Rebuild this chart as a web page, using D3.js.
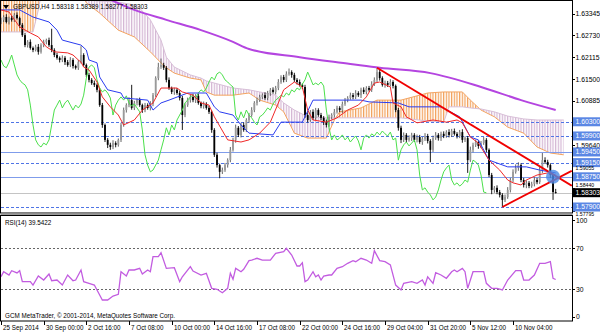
<!DOCTYPE html>
<html>
<head>
<meta charset="utf-8">
<script src="https://cdn.jsdelivr.net/npm/d3@7"></script>
<style>
  body { margin: 0; background: #fff; }
  svg { display: block; }
  text { font-family: "Liberation Sans", Arial, sans-serif; }
</style>
</head>
<body>
<div id="chart"></div>
<script>
// ---- data (GBPUSD H4) ----
const symbol = "GBPUSD,H4";
const lastOHLC = [1.58318, 1.58389, 1.58277, 1.58303];

const closes = [
  1.6317,1.6325,1.6311,1.6322,1.6317,1.6331,1.6322,1.6303,1.6274,1.6246,
  1.6255,1.6238,1.6232,1.6241,1.6227,1.6246,1.6255,1.6260,1.6246,1.6232,
  1.6218,1.6210,1.6204,1.6210,1.6198,1.6190,1.6204,1.6187,1.6182,1.6198,
  1.6218,1.6190,1.6162,1.6148,1.6139,1.6134,1.6120,1.6077,1.6021,1.5979,
  1.5965,1.5959,1.5970,1.5965,1.5979,1.6021,1.6063,1.6077,1.6091,1.6069,
  1.6083,1.6091,1.6077,1.6063,1.6077,1.6069,1.6080,1.6105,1.6153,1.6184,
  1.6190,1.6182,1.6148,1.6125,1.6114,1.6120,1.6111,1.6097,1.6049,1.6077,
  1.6091,1.6100,1.6091,1.6103,1.6083,1.6074,1.6080,1.6069,1.6058,1.6007,
  1.5937,1.5908,1.5889,1.5894,1.5908,1.5922,1.5951,1.5979,1.6013,1.5993,
  1.6021,1.6007,1.6035,1.6049,1.6063,1.6083,1.6091,1.6100,1.6105,1.6097,
  1.6111,1.6120,1.6114,1.6125,1.6142,1.6156,1.6148,1.6165,1.6170,1.6162,
  1.6148,1.6142,1.6134,1.6128,1.6049,1.6035,1.6058,1.6041,1.6063,1.6049,
  1.6041,1.6029,1.6021,1.6044,1.6049,1.6058,1.6069,1.6063,1.6080,1.6091,
  1.6097,1.6105,1.6100,1.6111,1.6105,1.6120,1.6114,1.6125,1.6120,1.6136,
  1.6148,1.6170,1.6153,1.6134,1.6139,1.6134,1.6142,1.6131,1.6063,1.6013,
  1.5979,1.5993,1.5979,1.5984,1.5993,1.5979,1.5987,1.5973,1.5982,1.5990,
  1.5976,1.5951,1.5984,1.5993,1.5984,1.5996,1.5990,1.6001,1.5993,1.6004,
  1.5996,1.5990,1.6001,1.5979,1.5984,1.5922,1.5951,1.5965,1.5973,1.5962,
  1.5970,1.5979,1.5951,1.5880,1.5838,1.5844,1.5832,1.5824,1.5810,1.5818,
  1.5838,1.5866,1.5889,1.5900,1.5908,1.5866,1.5852,1.5858,1.5849,1.5855,
  1.5866,1.5860,1.5894,1.5922,1.5917,1.5908,1.5880,1.5832,1.5830
];
const opens = [
  1.6310,1.6317,1.6325,1.6311,1.6322,1.6317,1.6331,1.6322,1.6303,1.6274,
  1.6246,1.6255,1.6238,1.6232,1.6241,1.6227,1.6246,1.6255,1.6260,1.6246,
  1.6232,1.6218,1.6210,1.6204,1.6210,1.6198,1.6190,1.6204,1.6187,1.6182,
  1.6198,1.6218,1.6190,1.6162,1.6148,1.6139,1.6134,1.6120,1.6077,1.6021,
  1.5979,1.5965,1.5959,1.5970,1.5965,1.5979,1.6021,1.6063,1.6077,1.6091,
  1.6069,1.6083,1.6091,1.6077,1.6063,1.6077,1.6069,1.6080,1.6105,1.6153,
  1.6184,1.6190,1.6182,1.6148,1.6125,1.6114,1.6120,1.6111,1.6097,1.6049,
  1.6077,1.6091,1.6100,1.6091,1.6103,1.6083,1.6074,1.6080,1.6069,1.6058,
  1.6007,1.5937,1.5908,1.5889,1.5894,1.5908,1.5922,1.5951,1.5979,1.6013,
  1.5993,1.6021,1.6007,1.6035,1.6049,1.6063,1.6083,1.6091,1.6100,1.6105,
  1.6097,1.6111,1.6120,1.6114,1.6125,1.6142,1.6156,1.6148,1.6165,1.6170,
  1.6162,1.6148,1.6142,1.6134,1.6128,1.6049,1.6035,1.6058,1.6041,1.6063,
  1.6049,1.6041,1.6029,1.6021,1.6044,1.6049,1.6058,1.6069,1.6063,1.6080,
  1.6091,1.6097,1.6105,1.6100,1.6111,1.6105,1.6120,1.6114,1.6125,1.6120,
  1.6136,1.6148,1.6170,1.6153,1.6134,1.6139,1.6134,1.6142,1.6131,1.6063,
  1.6013,1.5979,1.5993,1.5979,1.5984,1.5993,1.5979,1.5987,1.5973,1.5982,
  1.5990,1.5976,1.5951,1.5984,1.5993,1.5984,1.5996,1.5990,1.6001,1.5993,
  1.6004,1.5996,1.5990,1.6001,1.5979,1.5984,1.5922,1.5951,1.5965,1.5973,
  1.5962,1.5970,1.5979,1.5951,1.5880,1.5838,1.5844,1.5832,1.5824,1.5810,
  1.5818,1.5838,1.5866,1.5889,1.5900,1.5908,1.5866,1.5852,1.5858,1.5849,
  1.5855,1.5866,1.5860,1.5894,1.5922,1.5917,1.5908,1.5880,1.5832
];
// wick lengths in pips above / below the body
const wickUp = [
  6,5,8,4,6,5,7,4,5,6, 5,7,4,6,8,5,6,4,7,46, 5,6,4,7,5,6,8,5,4,6,
  25,5,4,6,5,7,4,5,6,4, 5,6,8,5,4,6,7,5,8,43, 6,5,7,4,6,5,8,6,5,12,
  18,6,5,7,4,6,5,7,6,5, 7,6,9,5,6,4,7,5,6,4, 5,6,4,7,6,5,8,6,9,5,
  6,7,5,6,8,5,7,6,5,8, 6,5,7,6,8,5,6,7,10,5, 6,5,7,4,6,8,5,7,6,5,
  6,5,7,6,5,8,6,5,7,6, 5,7,6,8,5,6,7,5,6,8, 7,12,6,5,7,6,8,5,4,6,
  6,7,5,8,6,5,7,6,5,8, 6,5,7,8,5,6,7,5,8,6, 7,5,6,8,5,6,9,6,7,5,
  6,8,5,4,6,5,7,6,5,7, 8,6,7,10,8,5,6,7,5,6, 8,6,9,20,8,6,5,4,9
];
const wickDn = [
  5,6,4,7,5,6,4,8,5,6, 7,5,6,4,8,5,6,7,5,6, 6,5,7,6,8,5,6,7,5,6,
  4,5,6,7,5,6,7,5,8,6, 9,8,6,7,5,6,5,7,6,5, 6,7,5,8,6,5,7,6,5,6,
  5,6,7,5,6,8,5,7,42,6, 5,7,6,8,5,6,7,5,6,8, 6,7,18,6,5,7,6,5,8,6,
  7,5,6,8,5,6,7,5,6,5, 6,8,5,7,6,5,7,6,5,8, 6,7,5,6,8,7,5,6,7,5,
  6,8,7,5,6,7,5,6,8,5, 6,5,7,6,5,8,6,7,5,6, 5,6,7,5,8,6,5,7,6,8,
  9,6,7,5,8,6,7,5,8,6, 7,35,6,5,7,8,6,5,7,6, 5,7,6,8,6,36,5,7,6,8,
  6,5,7,6,12,8,6,7,20,6, 5,7,6,5,8,6,7,9,6,5, 7,6,5,8,6,7,8,22,2
];

// Ichimoku lines, read as [bar, price] vertices
const tenkan = [[0,1.6345],[3,1.6339],[7,1.6297],[11,1.6280],[14,1.6269],[17,1.6241],[20,1.6227],[25,1.6224],[27,1.6218],[29,1.6204],[30,1.6198],[31,1.6184],[33,1.6176],[36,1.6142],[38,1.6100],[41,1.6072],[44,1.6049],[46,1.6021],[50,1.6035],[53,1.6063],[57,1.6083],[60,1.6125],[66,1.6125],[68,1.6114],[72,1.6105],[75,1.6083],[78,1.6077],[80,1.6044],[85,1.5979],[90,1.5973],[93,1.5979],[97,1.5998],[101,1.6029],[104,1.6083],[106,1.6120],[110,1.6142],[113,1.6128],[115,1.6063],[117,1.6035],[122,1.6029],[126,1.6041],[130,1.6063],[134,1.6077],[137,1.6100],[140,1.6139],[142,1.6142],[146,1.6128],[147,1.6083],[150,1.6072],[152,1.6044],[156,1.6027],[162,1.6035],[167,1.6029],[171,1.6035],[173,1.6027],[176,1.5987],[179,1.5970],[183,1.5922],[187,1.5894],[190,1.5866],[192,1.5858],[195,1.5852],[197,1.5866],[201,1.5880],[205,1.5886],[208,1.5880]];
const kijun = [[0,1.6345],[7,1.6345],[12,1.6325],[18,1.6311],[21,1.6288],[23,1.6260],[30,1.6246],[32,1.6232],[33,1.6204],[36,1.6196],[37,1.6156],[40,1.6120],[45,1.6111],[46,1.6097],[55,1.6091],[57,1.6063],[60,1.6083],[63,1.6091],[70,1.6111],[77,1.6111],[80,1.6072],[82,1.6058],[87,1.6049],[90,1.6021],[93,1.5998],[102,1.5993],[105,1.6029],[113,1.6029],[117,1.6091],[135,1.6091],[138,1.6086],[149,1.6083],[153,1.6072],[165,1.6072],[172,1.6044],[176,1.5987],[179,1.5979],[183,1.5922],[190,1.5903],[197,1.5903],[202,1.5894],[208,1.5886]];
const chikouShift = 26;
const cloudIdx = [0,12,14,15,30,32,37,44,50,52,56,60,62,65,71,75,77,80,87,93,97,103,106,110,115,122,125,127,135,141,150,160,166,168,173,176,180,185,190,196,201,206,211];
const spanA = [1.6415,1.6415,1.6415,1.6415,1.6396,1.6365,1.6336,1.6288,1.6269,1.6255,1.6227,1.6196,1.6182,1.6167,1.6153,1.6148,1.6114,1.6105,1.6105,1.6111,1.6091,1.6077,1.6058,1.5998,1.5984,1.5984,1.6035,1.6058,1.6069,1.6091,1.6091,1.6111,1.6114,1.6114,1.6114,1.6091,1.6063,1.6044,1.6015,1.5998,1.5959,1.5942,1.5937];
const spanB = [1.6283,1.6283,1.6345,1.6387,1.6387,1.6373,1.6370,1.6367,1.6359,1.6350,1.6317,1.6260,1.6212,1.6184,1.6162,1.6153,1.6145,1.6139,1.6125,1.6120,1.6114,1.6105,1.6083,1.6063,1.6044,1.6041,1.6041,1.6041,1.6041,1.6041,1.6041,1.6032,1.6029,1.6072,1.6072,1.6069,1.6066,1.6058,1.6046,1.6038,1.6035,1.6035,1.6035];

// slow moving average
const ma = [[30,1.6415],[39,1.6381],[50,1.6345],[62,1.6317],[75,1.6288],[87,1.6255],[93,1.6235],[112,1.6212],[131,1.6193],[142,1.6182],[161,1.6167],[180,1.6128],[195,1.6091],[208,1.6063]];

// RSI(14)
const rsiLast = 39.5422;
const rsi = [[0,42.2],[1,47.1],[3,43.9],[4,48.1],[6,45.9],[7,48.1],[8,37.4],[11,37.4],[12,34.1],[14,42.9],[16,39.0],[18,44.9],[19,38.3],[21,39.0],[23,34.1],[25,43.9],[27,38.3],[28,39.0],[30,48.8],[31,37.4],[33,35.8],[35,34.1],[37,24.4],[38,19.5],[40,19.5],[42,23.4],[44,25.1],[45,47.1],[47,42.9],[48,48.8],[50,48.8],[52,50.4],[53,44.9],[55,48.8],[56,47.1],[57,61.8],[59,61.8],[60,65.7],[62,50.4],[65,51.0],[67,37.4],[68,42.2],[71,52.0],[72,47.8],[75,43.9],[77,45.6],[79,30.9],[81,30.0],[83,26.6],[85,30.9],[86,45.6],[87,39.7],[88,50.4],[90,47.1],[91,49.5],[93,57.9],[94,58.5],[96,60.2],[98,58.5],[101,58.5],[103,65.1],[106,66.6],[107,70.0],[109,63.4],[111,52.7],[112,52.7],[113,55.9],[114,37.4],[115,39.0],[117,47.1],[118,42.2],[119,43.9],[120,39.0],[121,42.9],[123,43.9],[124,43.9],[126,50.4],[128,52.0],[130,55.3],[132,57.9],[133,56.9],[135,60.2],[137,58.5],[139,55.3],[140,67.6],[142,57.9],[144,56.9],[146,53.7],[148,34.1],[150,29.3],[151,35.8],[154,37.4],[156,35.8],[158,39.0],[159,34.1],[160,42.2],[162,35.8],[163,46.1],[165,43.9],[167,40.7],[169,47.1],[170,48.8],[171,47.1],[173,50.4],[174,47.1],[175,30.9],[177,47.1],[178,47.1],[181,47.1],[182,35.8],[184,30.9],[186,30.9],[188,29.3],[190,39.0],[193,48.1],[195,48.1],[196,39.0],[198,39.0],[200,43.9],[202,55.3],[204,55.3],[206,56.9],[207,40.7],[208,39.5]];
const rsiLevels = [70, 30];
const rsiTicks = [100, 70, 30, 0];

// drawn objects
const solidLevels = [1.59450, 1.58750];
const dashedLevels = [1.60300, 1.59900, 1.59150, 1.57900];
const bid = 1.58303;
const trendDown = [[141, 1.6182], [214, 1.5850]];
const trendUp = [[188, 1.5790], [214, 1.5892]];
const marker = [207, 1.5875];

// axes
const priceTicks = [1.63345, 1.62730, 1.62115, 1.61500, 1.60885, 1.59640];
const coveredTicks = [1.59055, 1.58440, 1.57795];   // mostly hidden behind the level boxes
const timeTicks = [0, 16, 32, 48, 64, 80, 96, 112, 128, 144, 160, 176, 192];
const timeLabels = ["25 Sep 2014", "30 Sep 00:00", "2 Oct 16:00", "7 Oct 08:00", "10 Oct 00:00", "14 Oct 16:00",
  "17 Oct 08:00", "22 Oct 00:00", "24 Oct 16:00", "29 Oct 04:00", "31 Oct 20:00", "5 Nov 12:00", "10 Nov 04:00"];

// ---- layout ----
const W = 600, H = 333;
const paneR = 572;           // right edge of the panes
const mainB = 213;           // bottom of price pane
const rsiT = 215.5, rsiB = 321;
const pip = 0.0001;

const x = d3.scaleLinear().domain([0, 214]).range([1, 571.7]);
const y = d3.scaleLinear().domain([1.57900, 1.60885]).range([207, 101]);
const yr = d3.scaleLinear().domain([0, 100]).range([320, 217.5]);
const fmt = d3.format(".5f");

const svg = d3.select("#chart").append("svg")
  .attr("width", W)
  .attr("height", H);

svg.append("rect").attr("width", W).attr("height", H).attr("fill", "#fff");

const defs = svg.append("defs");
defs.append("clipPath").attr("id", "mainClip")
  .append("rect").attr("x", 1).attr("y", 1).attr("width", paneR - 1).attr("height", mainB - 1);
defs.append("clipPath").attr("id", "rsiClip")
  .append("rect").attr("x", 1).attr("y", rsiT).attr("width", paneR - 1).attr("height", rsiB - rsiT);

function hatch(id, color) {
  const p = defs.append("pattern").attr("id", id)
    .attr("patternUnits", "userSpaceOnUse")
    .attr("x", x(0) - 0.6)
    .attr("width", x(1) - x(0)).attr("height", 4);
  p.append("rect").attr("width", 1.2).attr("height", 4).attr("fill", color);
}
hatch("hatchUp", "#f2a05a");
hatch("hatchDn", "#d4b6d4");

// ---- price pane ----
const cloud = cloudIdx.map((d, k) => ({i: d, a: spanA[k], b: spanB[k]}));
defs.append("clipPath").attr("id", "belowA").append("path")
  .attr("d", d3.area().x(d => x(d.i)).y0(400).y1(d => y(d.a))(cloud));
defs.append("clipPath").attr("id", "aboveA").append("path")
  .attr("d", d3.area().x(d => x(d.i)).y0(-400).y1(d => y(d.a))(cloud));

const main = svg.append("g").attr("clip-path", "url(#mainClip)");

const cloudArea = d3.area().x(d => x(d.i)).y0(d => y(d.a)).y1(d => y(d.b));
main.append("g").attr("clip-path", "url(#belowA)")
  .append("path").attr("d", cloudArea(cloud)).attr("fill", "url(#hatchUp)");
main.append("g").attr("clip-path", "url(#aboveA)")
  .append("path").attr("d", cloudArea(cloud)).attr("fill", "url(#hatchDn)");

const spanLine = d3.line().x(d => x(d.i));
main.append("path").attr("d", spanLine.y(d => y(d.a))(cloud))
  .attr("fill", "none").attr("stroke", "#f4a460").attr("stroke-width", 1);
main.append("path").attr("d", spanLine.y(d => y(d.b))(cloud))
  .attr("fill", "none").attr("stroke", "#d8bfd8").attr("stroke-width", 1);

// horizontal levels
main.selectAll(".lvlS").data(solidLevels).join("line")
  .attr("x1", 1).attr("x2", paneR)
  .attr("y1", d => Math.round(y(d)) + 0.5).attr("y2", d => Math.round(y(d)) + 0.5)
  .attr("stroke", "#7f9ceb").attr("stroke-width", 1);
main.selectAll(".lvlD").data(dashedLevels).join("line")
  .attr("x1", 1).attr("x2", paneR)
  .attr("y1", d => Math.round(y(d)) + 0.5).attr("y2", d => Math.round(y(d)) + 0.5)
  .attr("stroke", "#4f74e6").attr("stroke-width", 1).attr("stroke-dasharray", "3,2");
main.append("line")
  .attr("x1", 1).attr("x2", paneR)
  .attr("y1", Math.round(y(bid)) + 0.5).attr("y2", Math.round(y(bid)) + 0.5)
  .attr("stroke", "#c4c4c4");

// candles
const bars = closes.map((c, i) => {
  const o = opens[i];
  return {i, o, c, h: Math.max(o, c) + wickUp[i] * pip, l: Math.min(o, c) - wickDn[i] * pip};
});
const candles = main.append("g");
candles.selectAll("line").data(bars).join("line")
  .attr("x1", d => x(d.i)).attr("x2", d => x(d.i))
  .attr("y1", d => y(d.h)).attr("y2", d => y(d.l))
  .attr("stroke", d => d.c >= d.o ? "#555" : "#000")
  .attr("stroke-width", 0.9);
candles.selectAll("rect").data(bars).join("rect")
  .attr("x", d => x(d.i) - 0.9)
  .attr("width", 1.8)
  .attr("y", d => y(Math.max(d.o, d.c)))
  .attr("height", d => Math.max(1, Math.abs(y(d.o) - y(d.c))))
  .attr("fill", d => d.c >= d.o ? "#9a9a9a" : "#000");

// indicator lines
const line = d3.line().x(d => x(d[0])).y(d => y(d[1]));
const chikou = closes.map((c, i) => [i - chikouShift, c]).filter(d => d[0] >= 0);
main.append("path").attr("d", line(chikou))
  .attr("fill", "none").attr("stroke", "#4be04b").attr("stroke-width", 1);
main.append("path").attr("d", line(kijun))
  .attr("fill", "none").attr("stroke", "#2a3cf0").attr("stroke-width", 1);
main.append("path").attr("d", line(tenkan))
  .attr("fill", "none").attr("stroke", "#f02828").attr("stroke-width", 1);
main.append("path").attr("d", line.curve(d3.curveMonotoneX)(ma))
  .attr("fill", "none").attr("stroke", "#b445e0").attr("stroke-width", 2);
line.curve(d3.curveLinear);

// trend lines and marker
[trendDown, trendUp].forEach(t => {
  main.append("line")
    .attr("x1", x(t[0][0])).attr("y1", y(t[0][1]))
    .attr("x2", x(t[1][0])).attr("y2", y(t[1][1]))
    .attr("stroke", "#f00000").attr("stroke-width", 1.8);
});
main.append("circle")
  .attr("cx", x(marker[0])).attr("cy", y(marker[1])).attr("r", 7)
  .attr("fill", "#4a8ae6").attr("opacity", 0.8);

// header
svg.append("path").attr("d", "M3,5 L9,5 L6,9 Z").attr("fill", "#000");
svg.append("text").attr("x", 13).attr("y", 8.5)
  .attr("font-size", 6.3).attr("fill", "#000")
  .text(symbol + "  " + lastOHLC.map(fmt).join(" "));

// ---- RSI pane ----
const rsiG = svg.append("g").attr("clip-path", "url(#rsiClip)");
rsiG.selectAll("line").data(rsiLevels).join("line")
  .attr("x1", 1).attr("x2", paneR)
  .attr("y1", d => Math.round(yr(d)) + 0.5).attr("y2", d => Math.round(yr(d)) + 0.5)
  .attr("stroke", "#666").attr("stroke-dasharray", "2,2");
rsiG.append("path").attr("d", d3.line().x(d => x(d[0])).y(d => yr(d[1]))(rsi))
  .attr("fill", "none").attr("stroke", "#c25ce0").attr("stroke-width", 1.3);

svg.append("text").attr("x", 5).attr("y", 224.5)
  .attr("font-size", 6.3).attr("fill", "#000")
  .text("RSI(14) " + rsiLast.toFixed(4));
svg.append("text").attr("x", 5).attr("y", 318)
  .attr("font-size", 6.3).attr("fill", "#000")
  .text("GCM MetaTrader, \u00a9 2001-2014, MetaQuotes Software Corp.");

// ---- frames ----
svg.append("rect").attr("x", 0.5).attr("y", 0.5).attr("width", paneR).attr("height", mainB - 0.5)
  .attr("fill", "none").attr("stroke", "#000");
svg.append("rect").attr("x", 0.5).attr("y", mainB + 0.5).attr("width", paneR).attr("height", 1.5)
  .attr("fill", "#9a9a9a");
svg.append("rect").attr("x", 0.5).attr("y", rsiT).attr("width", paneR).attr("height", rsiB - rsiT)
  .attr("fill", "none").attr("stroke", "#000");

// ---- price axis ----
const pAxis = svg.append("g");
pAxis.selectAll("line").data(priceTicks.concat(coveredTicks)).join("line")
  .attr("x1", paneR).attr("x2", paneR + 3)
  .attr("y1", d => Math.round(y(d)) + 0.5).attr("y2", d => Math.round(y(d)) + 0.5)
  .attr("stroke", "#000");
pAxis.selectAll("text").data(priceTicks).join("text")
  .attr("x", paneR + 3.5).attr("y", d => y(d)).attr("dy", "0.35em")
  .attr("font-size", 6.8).attr("fill", "#000")
  .text(fmt);

const boxes = svg.append("g");
const boxData = dashedLevels.concat(solidLevels).map(v => ({v, bg: "#5b87e4"})).concat([{v: bid, bg: "#000"}]);
boxes.selectAll("rect").data(boxData).join("rect")
  .attr("x", paneR + 1).attr("width", W - paneR - 1)
  .attr("y", d => y(d.v) - 4.5).attr("height", 9)
  .attr("fill", d => d.bg);
boxes.selectAll("text").data(boxData).join("text")
  .attr("x", paneR + 3.5).attr("y", d => y(d.v)).attr("dy", "0.35em")
  .attr("font-size", 6.8).attr("fill", "#fff")
  .text(d => fmt(d.v));

// scale labels that peek out from under the boxes (nudged clear of them)
const peek = [2.5, -2.5, 3.5];
svg.append("g").selectAll("text").data(coveredTicks).join("text")
  .attr("x", paneR + 3.5).attr("y", (d, k) => y(d) + peek[k]).attr("dy", "0.35em")
  .attr("font-size", 5.2).attr("fill", "#000")
  .text(fmt);

// RSI axis
const rAxis = svg.append("g");
rAxis.selectAll("line").data(rsiTicks).join("line")
  .attr("x1", paneR).attr("x2", paneR + 3)
  .attr("y1", d => Math.round(Math.min(317, Math.max(220, yr(d)))) + 0.5)
  .attr("y2", d => Math.round(Math.min(317, Math.max(220, yr(d)))) + 0.5)
  .attr("stroke", "#000");
rAxis.selectAll("text").data(rsiTicks).join("text")
  .attr("x", paneR + 4).attr("y", d => Math.min(317, Math.max(221, yr(d)))).attr("dy", "0.35em")
  .attr("font-size", 6.8).attr("fill", "#000")
  .text(d => d);

// time axis
const tAxis = svg.append("g");
tAxis.selectAll("line").data(timeTicks).join("line")
  .attr("x1", d => Math.round(x(d)) + 0.5).attr("x2", d => Math.round(x(d)) + 0.5)
  .attr("y1", rsiB).attr("y2", rsiB + 4)
  .attr("stroke", "#000");
tAxis.selectAll("text").data(timeTicks).join("text")
  .attr("x", d => Math.round(x(d)) + 2).attr("y", 329.5)
  .attr("font-size", 6.3).attr("fill", "#000")
  .text((d, k) => timeLabels[k]);
</script>
</body>
</html>
